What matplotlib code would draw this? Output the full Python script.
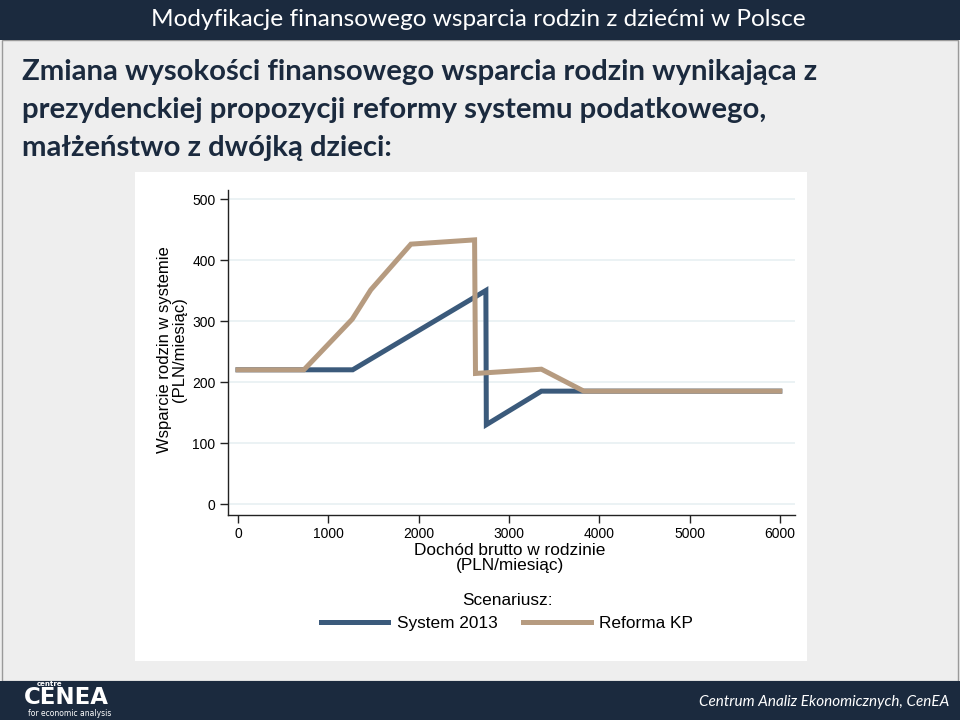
import matplotlib
matplotlib.use("Agg")
import matplotlib.pyplot as plt
from matplotlib.patches import Rectangle

# ---- data ----
system_x = [0, 1270, 2745, 2750, 3360, 6000]
system_y = [220, 220, 350, 130, 185, 185]
reforma_x = [0, 730, 1265, 1470, 1915, 2620, 2630, 3360, 3830, 6000]
reforma_y = [220, 220, 303, 351, 426, 433, 214, 221, 185, 185]
series_labels = ["System 2013", "Reforma KP"]
xticks = [0, 1000, 2000, 3000, 4000, 5000, 6000]
yticks = [0, 100, 200, 300, 400, 500]

NAVY = "#1b2a3e"
BLUE = "#3b5a7b"
TAN = "#b69b80"

W, H = 960, 720
fig = plt.figure(figsize=(9.6, 7.2), dpi=100)
fig.patch.set_facecolor("#eeeeee")

def px(x, y, w, h):
    return (x / W, 1 - (y + h) / H, w / W, h / H)

# slide decorations
bg = fig.add_axes([0, 0, 1, 1], zorder=-10)
bg.set_xlim(0, W); bg.set_ylim(H, 0); bg.axis("off")
bg.add_patch(Rectangle((0, 0), W, H, facecolor="#eeeeee", edgecolor="none"))
bg.add_patch(Rectangle((2, 40), W - 4, 641, facecolor="none", edgecolor="#9a9a9a", lw=1))
bg.add_patch(Rectangle((0, 0), W, 40, facecolor=NAVY, edgecolor="none"))
bg.add_patch(Rectangle((0, 681), W, 39, facecolor=NAVY, edgecolor="none"))
bg.add_patch(Rectangle((135, 172), 672, 489, facecolor="white", edgecolor="none"))

bg.text(478, 20, "Modyfikacje finansowego wsparcia rodzin z dziećmi w Polsce",
        color="white", fontsize=17.6, family="Lato", ha="center", va="center")
title_lines = ["Zmiana wysokości finansowego wsparcia rodzin wynikająca z",
               "prezydenckiej propozycji reformy systemu podatkowego,",
               "małżeństwo z dwójką dzieci:"]
for i, t in enumerate(title_lines):
    bg.text(22, 72 + i * 38, t, color=NAVY, fontsize=21.1, family="Lato",
            fontweight="bold", ha="left", va="center")

bg.text(949, 702, "Centrum Analiz Ekonomicznych, CenEA", color="white", fontsize=11,
        family="Lato", style="italic", ha="right", va="center")
bg.text(50, 684, "centre", color="white", fontsize=5, family="DejaVu Sans",
        fontweight="bold", ha="center", va="center")
bg.text(66, 698, "CENEA", color="white", fontsize=16.5, family="DejaVu Sans",
        fontweight="heavy", ha="center", va="center")
bg.text(70, 713, "for economic analysis", color="white", fontsize=5.5,
        family="DejaVu Sans", ha="center", va="center")

# chart axes
x0 = 238; xs = 90.3 / 1000
y0 = 504; ys = 0.61
xlim = (-110, 6170)
ylim = (-18, 515)
left = x0 + xlim[0] * xs
right = x0 + xlim[1] * xs
top = y0 - ylim[1] * ys
bottom = y0 - ylim[0] * ys
ax = fig.add_axes(px(left, top, right - left, bottom - top))
ax.set_facecolor("white")
ax.set_xlim(*xlim); ax.set_ylim(*ylim)

FONT = "Liberation Sans"
for yt in yticks:
    ax.axhline(yt, color="#e8f0f2", lw=1.2, zorder=0)
ax.plot(system_x, system_y, color=BLUE, lw=3.6, solid_joinstyle="miter", label=series_labels[0], zorder=3)
ax.plot(reforma_x, reforma_y, color=TAN, lw=3.6, solid_joinstyle="miter", label=series_labels[1], zorder=4)

ax.set_xticks(xticks)
ax.set_yticks(yticks)
ax.set_xticklabels([str(v) for v in xticks], family=FONT, fontsize=10)
ax.set_yticklabels([str(v) for v in yticks], family=FONT, fontsize=10)
ax.tick_params(axis="both", length=6, width=1, color="#222222", pad=3)
ax.tick_params(axis="x", pad=2.5)
for s in ["top", "right"]:
    ax.spines[s].set_visible(False)
for s in ["left", "bottom"]:
    ax.spines[s].set_color("#222222")
    ax.spines[s].set_linewidth(1)

fig.text(172 / W, 1 - 350 / H, "Wsparcie rodzin w systemie\n(PLN/miesiąc)", rotation=90,
         ha="center", va="center", family=FONT, fontsize=12, linespacing=1.0)
fig.text(510 / W, 1 - 558 / H, "Dochód brutto w rodzinie\n(PLN/miesiąc)",
         ha="center", va="center", family=FONT, fontsize=12.4, linespacing=0.98)

leg = ax.legend(loc="center", bbox_to_anchor=(507 / W, 1 - 612 / H), bbox_transform=fig.transFigure,
                ncol=2, frameon=False, title="Scenariusz:", handlelength=3.9,
                columnspacing=1.5, handletextpad=0.5,
                prop={"family": FONT, "size": 12.4})
leg.get_title().set_fontfamily(FONT)
leg.get_title().set_fontsize(12.4)

fig.savefig("out.png", dpi=100, facecolor=fig.get_facecolor())
